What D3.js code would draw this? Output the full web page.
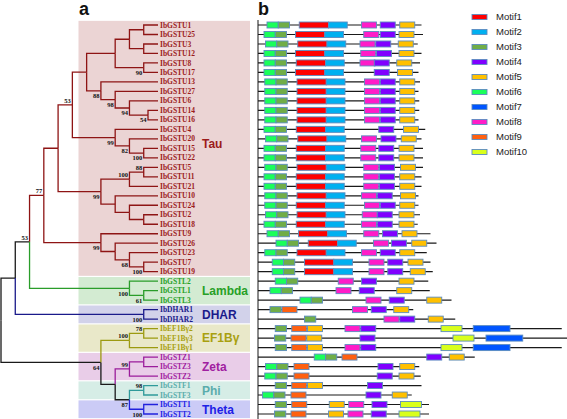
<!DOCTYPE html>
<html><head><meta charset="utf-8">
<script src="https://cdn.jsdelivr.net/npm/d3@7"></script>
<style>html,body{margin:0;padding:0;background:#fff;} svg{display:block;}</style>
</head><body><svg id="c" width="567" height="419"></svg>
<script>
// ---------- DATA ----------
const proteins = ["IbGSTU1","IbGSTU25","IbGSTU3","IbGSTU12","IbGSTU8","IbGSTU17","IbGSTU13","IbGSTU27","IbGSTU6","IbGSTU14","IbGSTU16","IbGSTU4","IbGSTU20","IbGSTU15","IbGSTU22","IbGSTU5","IbGSTU11","IbGSTU21","IbGSTU10","IbGSTU24","IbGSTU2","IbGSTU18","IbGSTU9","IbGSTU26","IbGSTU23","IbGSTU7","IbGSTU19","IbGSTL2","IbGSTL1","IbGSTL3","IbDHAR1","IbDHAR2","IbEF1Bγ2","IbEF1Bγ3","IbEF1Bγ1","IbGSTZ1","IbGSTZ3","IbGSTZ2","IbGSTF1","IbGSTF3","IbGSTT1","IbGSTT2"];
const proteinLengths = [218,220,213,218,216,214,216,214,215,215,214,223,218,220,220,220,218,218,214,214,216,213,230,238,225,230,233,227,229,258,207,263,405,412,405,289,215,217,218,205,228,228];
// [motif number, start position (aa)]
const motifSites = [
 [[6,12],[3,27],[1,55],[2,94],[8,138],[4,163],[5,189]],
 [[6,8],[3,23],[1,50],[2,89],[8,141],[4,163],[5,188]],
 [[6,10],[3,25],[1,53],[2,92],[8,136],[4,157],[5,187]],
 [[6,8],[3,23],[1,50],[2,89],[8,137],[4,158],[5,188]],
 [[6,8],[3,23],[1,51],[2,90],[8,136],[4,155],[5,185]],
 [[6,8],[3,23],[1,50],[2,89],[4,155],[5,186]],
 [[6,9],[3,24],[1,52],[2,91],[8,142],[4,163],[5,189]],
 [[6,9],[3,24],[1,52],[2,91],[8,142],[4,163],[5,189]],
 [[6,9],[3,24],[1,52],[2,91],[8,142],[4,163],[5,189]],
 [[6,9],[3,24],[1,52],[2,91],[8,142],[4,163],[5,189]],
 [[6,9],[3,24],[1,52],[2,91],[8,142],[4,163],[5,189]],
 [[6,8],[3,23],[1,51],[2,90],[4,161],[5,194]],
 [[6,10],[3,25],[1,53],[2,92],[8,138],[4,164],[5,191]],
 [[6,8],[3,23],[1,51],[2,90],[8,137],[4,161],[5,188]],
 [[6,8],[3,23],[1,51],[2,90],[8,137],[4,161],[5,188]],
 [[6,9],[3,24],[1,52],[2,91],[8,141],[4,162],[5,190]],
 [[6,8],[3,23],[1,51],[2,90],[8,141],[4,162],[5,189]],
 [[6,8],[3,23],[1,51],[2,90],[8,141],[4,162],[5,189]],
 [[6,9],[3,24],[1,52],[2,91],[8,138],[4,159],[5,190]],
 [[6,9],[3,24],[1,51],[2,90],[8,142],[4,163],[5,189]],
 [[6,10],[3,25],[1,52],[2,91],[8,139],[4,159],[5,188]],
 [[6,8],[3,23],[1,51],[2,90],[8,138],[4,159],[5,188]],
 [[6,12],[3,27],[1,54],[2,93],[8,141],[4,166],[5,192]],
 [[6,24],[3,39],[1,67],[2,106],[8,154],[4,178],[5,205]],
 [[6,9],[3,24],[1,52],[2,91],[8,138],[4,163],[5,189]],
 [[6,19],[3,34],[1,62],[2,101],[8,148],[4,173],[5,200]],
 [[6,19],[3,34],[1,62],[2,101],[8,148],[4,173],[5,203]],
 [[6,23],[3,38],[8,107],[4,138],[5,188]],
 [[6,16],[3,31],[8,104],[4,135],[5,185]],
 [[6,56],[3,71],[8,144],[4,175],[5,225]],
 [[3,16],[9,32],[8,126],[4,151],[5,181]],
 [[3,62],[8,168],[4,189],[5,227]],
 [[3,23],[9,45],[5,66],[8,116],[4,137],[10,244],[7,287]],
 [[3,22],[9,44],[5,65],[4,136],[10,260],[7,304]],
 [[3,23],[9,45],[5,66],[8,116],[4,137],[10,244],[7,287]],
 [[6,75],[3,90],[9,112],[4,225],[5,255]],
 [[6,10],[3,25],[9,48],[4,160],[5,189]],
 [[6,9],[3,24],[9,48],[4,159],[5,188]],
 [[3,23],[9,45],[5,66],[4,146]],
 [[6,6],[3,21],[9,44],[4,144],[5,179]],
 [[3,23],[9,45],[5,95],[8,121],[4,152],[10,190]],
 [[3,22],[9,44],[5,94],[8,120],[4,151],[10,188]]
];
const motifNames = ["Motif1","Motif2","Motif3","Motif4","Motif5","Motif6","Motif7","Motif8","Motif9","Motif10"];
const motifColors = ["#ff0000","#00b0f0","#70ad47","#8000ff","#ffc000","#1aff5a","#0055ff","#ff1cc8","#ff6010","#d9ff1c"];
const motifWidths = [39,25,15,20,20,15,49,20,20,28];

const cladeNames = ["Tau","Lambda","DHAR","EF1Bγ","Zeta","Phi","Theta"];
const cladePrefixes = ["IbGSTU","IbGSTL","IbDHAR","IbEF1B","IbGSTZ","IbGSTF","IbGSTT"];
const cladeLineColors = ["#8e1414","#2a9d2a","#1a1a8a","#9c9a10","#9b1d9b","#2f9a9a","#2222dd"];
const cladeTextColors = ["#9b1b1b","#26a026","#1a1a8a","#a8a010","#a020a0","#5aacac","#2020e6"];
const cladeBandColors = ["#ebd4d4","#d3ebd2","#d2d2ea","#e9e8c9","#e9cde8","#d6ede6","#cbcbf6"];

// tree (Newick pieces; branch lengths in layout levels, internal labels = bootstrap)
const nJ = "(((IbGSTU1:1,IbGSTU25:1):1,(IbGSTU3:1,IbGSTU12:1):1):1,(IbGSTU8:1,IbGSTU17:1)90:2)";
const nK = "(IbGSTU13:4,(IbGSTU27:3,(IbGSTU6:2,(IbGSTU14:0.7,IbGSTU16:0.7)54:1.3)94:1)98:1)88";
const nI = "(IbGSTU4:3,(IbGSTU20:2,(IbGSTU15:1,IbGSTU22:1)100:1)82:1)99";
const nG = "(((IbGSTU5:1,IbGSTU11:1)88:1,IbGSTU21:2)100:2,(IbGSTU10:3,(IbGSTU24:2,(IbGSTU2:1,IbGSTU18:1):1):1):1)99";
const nU9 = "(IbGSTU9:4,(IbGSTU26:3,(IbGSTU23:2,(IbGSTU7:1,IbGSTU19:1)100:1)68:1):1)99";
const nL = "(IbGSTL2:2,(IbGSTL1:1,IbGSTL3:1)61:1)100";
const nDH = "(IbDHAR1:1,IbDHAR2:1)100";
const nEF = "((IbEF1Bγ2:1,IbEF1Bγ3:1)78:1,IbEF1Bγ1:2)100";
const nZ = "((IbGSTZ1:1,IbGSTZ3:1):1,IbGSTZ2:2)99";
const nPT = "((IbGSTF1:1,IbGSTF3:1)98:1,(IbGSTT1:1,IbGSTT2:1)100:1)87";

// ---------- BUILD ----------
const nH = "(" + nJ + ":2," + nK + ":1)";
const nF = "(" + nH + ":1," + nI + ":3)53";
const nE = "(" + nF + ":1," + nG + ":3)";
const nD = "(" + nE + ":1," + nU9 + ":4)77";
const nC = "(" + nD + ":1," + nL + ":7)53";
const nA = "(" + nC + ":1," + nDH + ":9)";
const nB = "(" + nEF + ":2,(" + nZ + ":1," + nPT + ":1):1)64";
const newick = "(" + nA + ":1," + nB + ":7);";

function parseNewick(s){
  let i=0;
  function node(){
    const n={};
    if(s[i]==="("){ i++; n.children=[]; do { n.children.push(node()); } while(s[i++]===","); }
    let lab=""; while(i<s.length && !",():;".includes(s[i])) lab+=s[i++];
    n.name=lab;
    if(s[i]===":"){ i++; let l=""; while(i<s.length && !",();".includes(s[i])) l+=s[i++]; n.length=+l; }
    return n;
  }
  return node();
}

const svg = d3.select("#c");
const W=567,H=419;
const yRow = d3.scaleLinear().domain([0, proteins.length-1]).range([25, 414]);
const xTree = d3.scaleLinear().domain([0, 11]).range([1, 158]);
const xMotif = d3.scaleLinear().domain([0, 410]).range([258, 565.5]);

function cladeIndex(name){ return cladePrefixes.findIndex(p => name.startsWith(p)); }

const root = d3.hierarchy(parseNewick(newick));
root.eachBefore(n => { n.dv = n.parent ? n.parent.dv + (n.data.length||0) : 0; });
root.eachAfter(n => {
  if(n.children){ n.yv = (n.children[0].yv + n.children[n.children.length-1].yv)/2;
    const s = new Set(n.leaves().map(l => cladeIndex(l.data.name)));
    n.clade = s.size===1 ? [...s][0] : -1;
  } else { n.yv = yRow(proteins.indexOf(n.data.name)); n.clade = cladeIndex(n.data.name); }
});
const colOf = n => n.clade>=0 ? cladeLineColors[n.clade] : "#1a1a1a";

// ---------- BANDS ----------
const step = yRow(1)-yRow(0);
cladeNames.forEach((c,ci) => {
  const idx = proteins.map((p,i)=>[p,i]).filter(d => cladeIndex(d[0])===ci).map(d=>d[1]);
  const y0 = yRow(d3.min(idx)) - step/2 + 0.6, y1 = yRow(d3.max(idx)) + step/2 - 0.6;
  svg.append("rect").attr("x",78.5).attr("y",y0).attr("width",250-78.5).attr("height",y1-y0)
    .attr("fill",cladeBandColors[ci]);
  svg.append("text").attr("x",202).attr("y",(y0+y1)/2).attr("dy",ci===0?"-0.05em":"0.36em")
    .attr("font-family","Liberation Sans, Arial, sans-serif").attr("font-weight","bold").attr("font-size",12)
    .attr("fill",cladeTextColors[ci]).text(c);
});

// ---------- TREE ----------
const gt = svg.append("g").attr("fill","none").attr("stroke-width",1.3);
root.descendants().filter(n=>n.parent).forEach(n => {
  gt.append("path")
    .attr("d", `M${xTree(n.parent.dv)},${n.parent.yv}V${n.yv}H${xTree(n.dv)}`)
    .attr("stroke", colOf(n));
});
root.leaves().forEach(n => {
  svg.append("text").attr("x",160).attr("y",n.yv).attr("dy","0.34em")
    .attr("font-family","Liberation Serif, serif").attr("font-weight","bold").attr("font-size",7.5)
    .attr("fill",cladeTextColors[n.clade]).text(n.data.name);
});
root.descendants().filter(n=>n.children && n.data.name && n.parent).forEach(n => {
  const first = n.parent.children[0]===n;
  svg.append("text").attr("x",xTree(n.dv)-1.5).attr("y", first ? n.yv-2 : n.yv+7.3)
    .attr("text-anchor","end").attr("font-family","Liberation Serif, serif").attr("font-weight","bold")
    .attr("font-size",6.5).attr("fill","#111").text(n.data.name);
});

// ---------- MOTIFS ----------
svg.append("line").attr("x1",258).attr("x2",258).attr("y1",20).attr("y2",H).attr("stroke","#8a8a8a").attr("stroke-width",2);
const gm = svg.append("g");
proteins.forEach((p,i) => {
  const y = yRow(i);
  gm.append("line").attr("x1",xMotif(0)).attr("x2",xMotif(proteinLengths[i])).attr("y1",y).attr("y2",y)
    .attr("stroke","#1a1a1a").attr("stroke-width",1.2);
  motifSites[i].forEach(([m,s]) => {
    gm.append("rect").attr("x",xMotif(s)).attr("y",y-3).attr("width",xMotif(s+motifWidths[m-1])-xMotif(s)).attr("height",6)
      .attr("fill",motifColors[m-1]).attr("stroke","#5b8cc0").attr("stroke-width",0.9);
  });
});

// ---------- LEGEND ----------
motifNames.forEach((m,i) => {
  const cy = 17 + i*15;
  svg.append("rect").attr("x",472).attr("y",cy-2.5).attr("width",15).attr("height",5)
    .attr("fill",motifColors[i]).attr("stroke","#5b8cc0").attr("stroke-width",0.9);
  svg.append("text").attr("x",496).attr("y",cy).attr("dy","0.36em")
    .attr("font-family","Liberation Sans, Arial, sans-serif").attr("font-size",9.5).attr("fill","#222").text(m);
});

// ---------- PANEL LETTERS ----------
svg.append("text").attr("x",79).attr("y",15).attr("font-family","Liberation Sans, Arial, sans-serif")
  .attr("font-weight","bold").attr("font-size",18).attr("fill","#111").text("a");
svg.append("text").attr("x",258).attr("y",15).attr("font-family","Liberation Sans, Arial, sans-serif")
  .attr("font-weight","bold").attr("font-size",18).attr("fill","#111").text("b");
</script></body></html>
